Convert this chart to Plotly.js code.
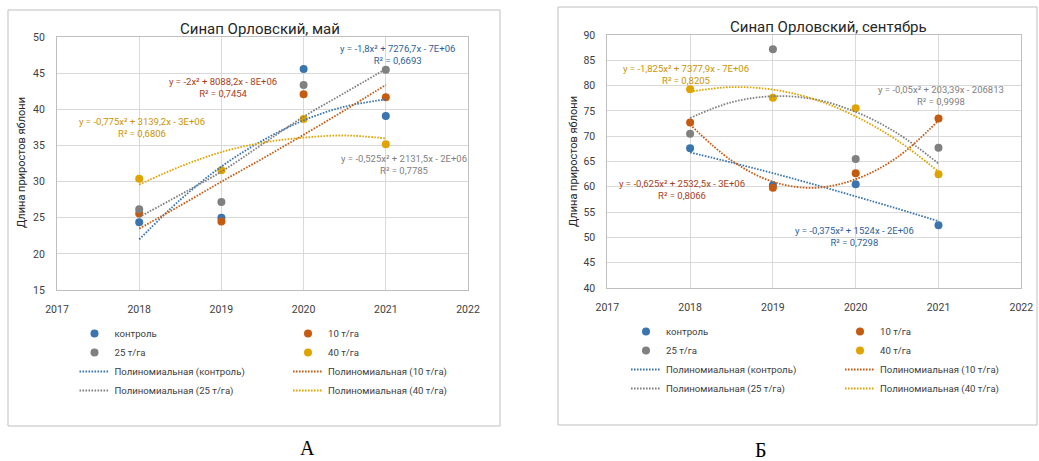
<!DOCTYPE html>
<html>
<head>
<meta charset="utf-8">
<script src="https://cdn.plot.ly/plotly-3.0.1.min.js"></script>
<style>html,body{margin:0;padding:0;background:#fff;}#chart{width:1039px;height:461px;}</style>
</head>
<body>
<div id="chart"></div>
<script>
// ---------- DATA ----------
const years = [2018, 2019, 2020, 2021];
const seriesNames = ['контроль', '10 т/га', '25 т/га', '40 т/га'];
const trendNames = ['Полиномиальная (контроль)', 'Полиномиальная (10 т/га)', 'Полиномиальная (25 т/га)', 'Полиномиальная (40 т/га)'];

// May (А)
const kontrolMay = [24.4, 25.0, 45.6, 39.1];
const t10May = [25.6, 24.5, 42.1, 41.7];
const t25May = [26.2, 27.2, 43.4, 45.5];
const t40May = [30.4, 31.6, 38.7, 35.2];
// September (Б)
const kontrolSep = [67.6, 60.3, 60.5, 52.4];
const t10Sep = [72.7, 59.8, 62.7, 73.5];
const t25Sep = [70.5, 87.2, 65.5, 67.7];
const t40Sep = [79.3, 77.6, 75.5, 62.5];

// Trend curves
const trendYears = [2018, 2018.5, 2019, 2019.5, 2020, 2020.5, 2021];
const trendKontrolMay = [22.0, 27.5, 32.1, 35.7, 38.5, 40.4, 41.4];
const trend10May = [23.5, 26.7, 30.0, 33.2, 36.5, 39.9, 43.4];
const trend25May = [25.1, 28.2, 31.4, 35.2, 39.0, 42.3, 45.6];
const trend40May = [29.6, 32.1, 34.1, 35.4, 36.1, 36.4, 36.0];
const trendKontrolSep = [66.8, 64.8, 62.7, 60.45, 58.1, 55.7, 53.2];
const trend10Sep = [72.3, 65.2, 61.0, 59.8, 61.5, 65.8, 73.1];
const trend25Sep = [73.6, 76.7, 77.9, 77.3, 74.8, 70.6, 64.6];
const trend40Sep = [78.8, 79.7, 79.2, 77.3, 73.9, 69.2, 63.0];

// Equation labels
const eqMay = [
  'y = -1,8x² + 7276,7x - 7E+06<br>R² = 0,6693',
  'y = -2x² + 8088,2x - 8E+06<br>R² = 0,7454',
  'y = -0,525x² + 2131,5x - 2E+06<br>R² = 0,7785',
  'y = -0,775x² + 3139,2x - 3E+06<br>R² = 0,6806'
];
const eqSep = [
  'y = -0,375x² + 1524x - 2E+06<br>R² = 0,7298',
  'y = -0,625x² + 2532,5x - 3E+06<br>R² = 0,8066',
  'y = -0,05x² + 203,39x - 206813<br>R² = 0,9998',
  'y = -1,825x² + 7377,9x - 7E+06<br>R² = 0,8205'
];
const titles = ['Синап Орловский, май', 'Синап Орловский, сентябрь'];
const yTitle = 'Длина приростов яблони';
const captions = ['А', 'Б'];

// ---------- STYLE ----------
const W = 1039, H = 461;
const px = x => x / W;
const py = y => 1 - y / H;
const colors = ['#3b75b0', '#c55a11', '#808080', '#e0a400'];
const eqColors = ['#2f5f96', '#a8401a', '#7f7f7f', '#c99500'];
const FONT = 'Roboto, "Noto Sans", sans-serif';

const mayData = [kontrolMay, t10May, t25May, t40May];
const sepData = [kontrolSep, t10Sep, t25Sep, t40Sep];
const mayTrend = [trendKontrolMay, trend10May, trend25May, trend40May];
const sepTrend = [trendKontrolSep, trend10Sep, trend25Sep, trend40Sep];

const traces = [];
function addChart(data, trend, xa, ya, legA, legB) {
  for (let i = 0; i < 4; i++) {
    traces.push({
      x: years, y: data[i], type: 'scatter', mode: 'markers', name: seriesNames[i],
      xaxis: xa, yaxis: ya, legend: (i % 2 === 0) ? legA : legB,
      marker: {color: colors[i], size: 8}, hoverinfo: 'skip'
    });
  }
  for (let i = 0; i < 4; i++) {
    traces.push({
      x: trendYears, y: trend[i], type: 'scatter', mode: 'lines', name: trendNames[i],
      xaxis: xa, yaxis: ya, legend: (i % 2 === 0) ? legA : legB,
      line: {color: colors[i], width: 1.8, dash: '1.6px,1.4px', shape: 'spline', smoothing: 1},
      hoverinfo: 'skip'
    });
  }
}
addChart(mayData, mayTrend, 'x', 'y', 'legend', 'legend2');
addChart(sepData, sepTrend, 'x2', 'y2', 'legend3', 'legend4');

function xax(domain, anchor) {
  return {
    domain: domain, range: [2017, 2022], dtick: 1, tick0: 2017, anchor: anchor,
    showgrid: true, gridcolor: '#d9d9d9', gridwidth: 1,
    showline: true, linecolor: '#bfbfbf', mirror: true, zeroline: false,
    ticks: '', ticklabelstandoff: 9, fixedrange: true,
    tickfont: {family: FONT, size: 10.5, color: '#404040'}
  };
}
function yax(domain, range, anchor) {
  return {
    domain: domain, range: range, dtick: 5, anchor: anchor,
    showgrid: true, gridcolor: '#d9d9d9', gridwidth: 1,
    showline: true, linecolor: '#bfbfbf', mirror: true, zeroline: false,
    ticks: '', ticklabelstandoff: 9, fixedrange: true,
    tickfont: {family: FONT, size: 10.5, color: '#404040'}
  };
}

const legFont = {family: FONT, size: 9.6, color: '#404040'};
function leg(xp, yp) {
  return {x: px(xp), y: py(yp), xanchor: 'left', yanchor: 'top', orientation: 'v',
    bgcolor: 'rgba(0,0,0,0)', borderwidth: 0, font: legFont, tracegroupgap: 0};
}

const annotations = [];
function eq(text, cx, cy, color) {
  annotations.push({text: text, x: px(cx), y: py(cy), xref: 'paper', yref: 'paper',
    xanchor: 'center', yanchor: 'middle', showarrow: false, align: 'center',
    font: {family: FONT, size: 9.5, color: color}});
}
eq(eqMay[0], 397, 54, eqColors[0]);
eq(eqMay[1], 223, 88, eqColors[1]);
eq(eqMay[2], 404, 164, eqColors[2]);
eq(eqMay[3], 142, 128, eqColors[3]);
eq(eqSep[0], 854, 236, eqColors[0]);
eq(eqSep[1], 682, 189, eqColors[1]);
eq(eqSep[2], 941, 95, eqColors[2]);
eq(eqSep[3], 686, 74, eqColors[3]);

annotations.push({text: titles[0], x: px(260), y: py(29), xref: 'paper', yref: 'paper',
  xanchor: 'center', yanchor: 'middle', showarrow: false,
  font: {family: FONT, size: 15, color: '#262626'}});
annotations.push({text: titles[1], x: px(828), y: py(27), xref: 'paper', yref: 'paper',
  xanchor: 'center', yanchor: 'middle', showarrow: false,
  font: {family: FONT, size: 15, color: '#262626'}});
annotations.push({text: yTitle, x: px(22), y: py(163), xref: 'paper', yref: 'paper',
  xanchor: 'center', yanchor: 'middle', showarrow: false, textangle: -90,
  font: {family: FONT, size: 11, color: '#262626'}});
annotations.push({text: yTitle, x: px(573), y: py(162), xref: 'paper', yref: 'paper',
  xanchor: 'center', yanchor: 'middle', showarrow: false, textangle: -90,
  font: {family: FONT, size: 11, color: '#262626'}});
annotations.push({text: captions[0], x: px(307), y: py(448), xref: 'paper', yref: 'paper',
  xanchor: 'center', yanchor: 'middle', showarrow: false,
  font: {family: '"Liberation Serif", "Times New Roman", serif', size: 20, color: '#000'}});
annotations.push({text: captions[1], x: px(760), y: py(450), xref: 'paper', yref: 'paper',
  xanchor: 'center', yanchor: 'middle', showarrow: false,
  font: {family: '"Liberation Serif", "Times New Roman", serif', size: 20, color: '#000'}});

const shapes = [
  {type: 'rect', xref: 'paper', yref: 'paper', x0: px(8), x1: px(500), y0: py(426), y1: py(10),
   line: {color: '#bfbfbf', width: 1}, layer: 'below'},
  {type: 'rect', xref: 'paper', yref: 'paper', x0: px(558), x1: px(1037), y0: py(425), y1: py(7),
   line: {color: '#bfbfbf', width: 1}, layer: 'below'}
];

const layout = {
  width: W, height: H, margin: {l: 0, r: 0, t: 0, b: 0},
  paper_bgcolor: '#ffffff', plot_bgcolor: '#ffffff',
  showlegend: true,
  xaxis: xax([px(57), px(468)], 'y'),
  yaxis: yax([py(290), py(37.3)], [15, 50], 'x'),
  xaxis2: xax([px(607.3), px(1021.3)], 'y2'),
  yaxis2: yax([py(288), py(35)], [40, 90], 'x2'),
  legend: leg(74.5, 319),
  legend2: leg(288, 319),
  legend3: leg(626, 317),
  legend4: leg(840, 317),
  annotations: annotations,
  shapes: shapes
};

Plotly.newPlot('chart', traces, layout, {staticPlot: true, displayModeBar: false});
</script>
</body>
</html>
